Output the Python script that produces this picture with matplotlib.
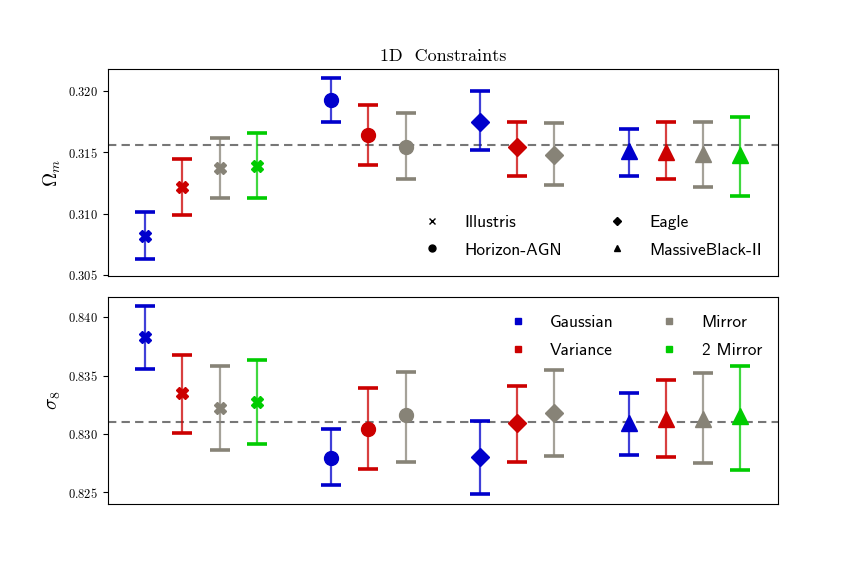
import matplotlib
matplotlib.use("Agg")
import matplotlib.pyplot as plt
from matplotlib.lines import Line2D
import numpy as np

plt.rcParams['font.family'] = 'serif'
plt.rcParams['font.serif'] = ['cmr10']
plt.rcParams['mathtext.fontset'] = 'cm'
plt.rcParams['axes.formatter.use_mathtext'] = True

# slot index of each point along the x axis
slots = [0, 1, 2, 3, 5, 6, 7, 9, 10, 11, 13, 14, 15, 16]
sims = ['Illustris'] * 4 + ['Horizon-AGN'] * 3 + ['Eagle'] * 3 + ['MassiveBlack-II'] * 4
methods = ['Gaussian', 'Variance', 'Mirror', '2 Mirror',
           'Gaussian', 'Variance', 'Mirror',
           'Gaussian', 'Variance', 'Mirror',
           'Gaussian', 'Variance', 'Mirror', '2 Mirror']

om_mean = [0.3082, 0.3122, 0.3137, 0.3139, 0.3193, 0.3164, 0.3154,
           0.3175, 0.3154, 0.3148, 0.3151, 0.3150, 0.3149, 0.3148]
om_up = [0.3101, 0.3145, 0.3162, 0.3166, 0.3211, 0.3189, 0.3182,
         0.3200, 0.3175, 0.3174, 0.3169, 0.3175, 0.3175, 0.3179]
om_low = [0.3063, 0.3099, 0.3113, 0.3113, 0.3175, 0.3140, 0.3128,
          0.3152, 0.3131, 0.3123, 0.3131, 0.3128, 0.3122, 0.3114]

s8_mean = [0.8383, 0.8335, 0.8322, 0.8327, 0.8279, 0.8304, 0.8316,
           0.8280, 0.8309, 0.8318, 0.8309, 0.8313, 0.8313, 0.8315]
s8_up = [0.8410, 0.8368, 0.8358, 0.8363, 0.8304, 0.8339, 0.8353,
         0.8311, 0.8341, 0.8355, 0.8335, 0.8346, 0.8352, 0.8358]
s8_low = [0.8356, 0.8301, 0.8286, 0.8291, 0.8256, 0.8270, 0.8276,
          0.8248, 0.8276, 0.8281, 0.8282, 0.8280, 0.8275, 0.8269]

om_true = 0.3156
s8_true = 0.831

colors = {'Gaussian': '#0000cc', 'Variance': '#cc0000',
          'Mirror': '#878377', '2 Mirror': '#00cc00'}
markers = {'Illustris': ('X', 9), 'Horizon-AGN': ('o', 10),
           'Eagle': ('D', 9), 'MassiveBlack-II': ('^', 11)}

fig, axes = plt.subplots(2, 1, figsize=(8.64, 5.76), dpi=100, sharex=True)
fig.subplots_adjust(left=0.125, right=0.9, top=0.88, bottom=0.1255, hspace=0.1)

panels = [(axes[0], om_mean, om_up, om_low, om_true, r'$\Omega_m$', (0.3049, 0.3218)),
          (axes[1], s8_mean, s8_up, s8_low, s8_true, r'$\sigma_8$', (0.8240, 0.84176))]

for ax, mean, up, low, truth, label, ylim in panels:
    ax.axhline(truth, color='#777777', linestyle='--', linewidth=1.5, dashes=(4, 2.5), zorder=1)
    for i in range(len(slots)):
        c = colors[methods[i]]
        m, ms = markers[sims[i]]
        yerr = [[mean[i] - low[i]], [up[i] - mean[i]]]
        _, caps, bars = ax.errorbar(slots[i], mean[i], yerr=yerr, color=c, marker=m,
                                    markersize=ms, capsize=7, capthick=2.6,
                                    elinewidth=1.6, linestyle='none', zorder=3)
        for b in bars:
            b.set_alpha(0.75)
    ax.set_ylim(*ylim)
    ax.set_xlim(-1, 17)
    ax.set_ylabel(label, fontsize=14)
    ax.tick_params(axis='y', labelsize=9)
    ax.tick_params(axis='x', bottom=False, labelbottom=False)

axes[0].set_title(r'1D  Constraints', fontsize=13)
axes[0].set_yticks([0.305, 0.310, 0.315, 0.320])
axes[1].set_yticks([0.825, 0.830, 0.835, 0.840])

# legend for simulations (marker shape)
sim_handles = [Line2D([], [], color='k', marker='x', linestyle='none', markersize=5),
               Line2D([], [], color='k', marker='o', linestyle='none', markersize=5),
               Line2D([], [], color='k', marker='D', linestyle='none', markersize=4.5),
               Line2D([], [], color='k', marker='^', linestyle='none', markersize=5)]
axes[0].legend(sim_handles, ['Illustris', 'Horizon-AGN', 'Eagle', 'MassiveBlack-II'],
               ncol=2, frameon=False, loc='lower right', prop={'family': 'cmss10', 'size': 12.5},
               handletextpad=0.85, columnspacing=2.2, labelspacing=0.7,
               bbox_to_anchor=(1.0, 0.014))

# legend for methods (colour)
meth_names = ['Gaussian', 'Variance', 'Mirror', '2 Mirror']
meth_handles = [Line2D([], [], color=colors[n], marker='s', linestyle='none', markersize=5)
                for n in meth_names]
axes[1].legend(meth_handles, meth_names, ncol=2, frameon=False, loc='upper right',
               prop={'family': 'cmss10', 'size': 12.5},
               handletextpad=0.85, columnspacing=2.2, labelspacing=0.7,
               bbox_to_anchor=(1.0, 0.986))

plt.savefig('out.png', dpi=100)
plt.close()
